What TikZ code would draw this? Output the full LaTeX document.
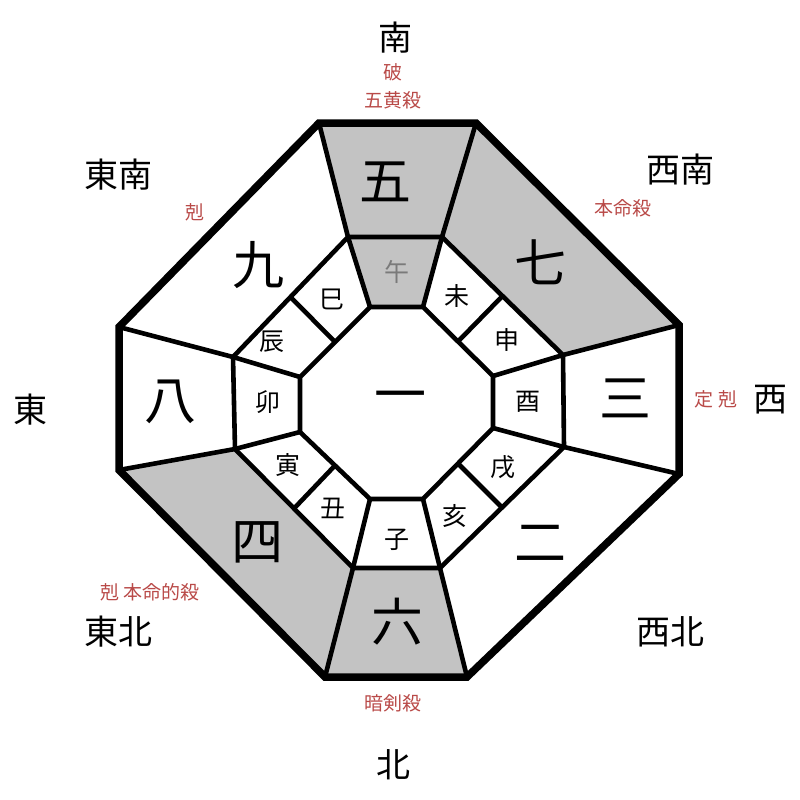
\documentclass[tikz,border=0pt]{standalone}
\usepackage{fontspec}
\usepackage{tikz}
\usetikzlibrary{calc}
\newfontfamily\jp{Noto Sans CJK JP}
\definecolor{cellgray}{HTML}{C3C3C3}
\definecolor{notered}{HTML}{B94A48}
\definecolor{faint}{HTML}{7A7A7A}

\begin{document}
\begin{tikzpicture}[
x=1pt,y=-1pt,
cell/.style={line width=4.6pt,line join=round},
rim/.style={line width=7.5pt,line join=miter},
num/.style={font=\jp\fontsize{52}{52}\selectfont},
zod/.style={font=\jp\fontsize{25}{25}\selectfont},
dir/.style={font=\jp\fontsize{34}{34}\selectfont},
note/.style={font=\jp\fontsize{19}{22}\selectfont,text=notered,align=center}
]
\useasboundingbox (0,0) rectangle (800,800);
% outer, middle and inner octagons
\coordinate (o1) at (319,123); \coordinate (o2) at (476,123);
\coordinate (o3) at (679,325); \coordinate (o4) at (679,474);
\coordinate (o5) at (467,677); \coordinate (o6) at (325,677);
\coordinate (o7) at (119,470); \coordinate (o8) at (119,327);
\coordinate (m1) at (348,237); \coordinate (m2) at (442,237);
\coordinate (m3) at (563,355); \coordinate (m4) at (564,447);
\coordinate (m5) at (440,568); \coordinate (m6) at (353,568);
\coordinate (m7) at (235,449); \coordinate (m8) at (233,357);
\coordinate (i1) at (370,307); \coordinate (i2) at (423,307);
\coordinate (i3) at (493,376); \coordinate (i4) at (493,428);
\coordinate (i5) at (423,499); \coordinate (i6) at (370,499);
\coordinate (i7) at (300,432); \coordinate (i8) at (300,377);
% shaded sectors
\fill[cellgray] (o1)--(o2)--(m2)--(m1)--cycle;
\fill[cellgray] (m1)--(m2)--(i2)--(i1)--cycle;
\fill[cellgray] (o2)--(o3)--(m3)--(m2)--cycle;
\fill[cellgray] (o5)--(o6)--(m6)--(m5)--cycle;
\fill[cellgray] (o6)--(o7)--(m7)--(m6)--cycle;
% spokes and rings
\foreach \k in {1,...,8} \draw[cell] (i\k)--(m\k)--(o\k);
\draw[cell] (m1)--(m2)--(m3)--(m4)--(m5)--(m6)--(m7)--(m8)--cycle;
\draw[cell] (i1)--(i2)--(i3)--(i4)--(i5)--(i6)--(i7)--(i8)--cycle;
\foreach \a/\b in {2/3,4/5,6/7,8/1}
  \draw[cell] ($(i\a)!0.5!(i\b)$)--($(m\a)!0.5!(m\b)$);
\draw[rim] (o1)--(o2)--(o3)--(o4)--(o5)--(o6)--(o7)--(o8)--cycle;
% numbers
\node[num] (n5) at (385,182) {五};
\node[num] (n7) at (540,262) {七};
\node[num] (n3) at (625,398) {三};
\node[num] (n2) at (540,543) {二};
\node[num] (n6) at (397,622) {六};
\node[num] (n4) at (257,542) {四};
\node[num] (n8) at (170,402) {八};
\node[num] (n9) at (258,265) {九};
\node[num] (n1) at (400,402) {一};
% zodiac
\node[zod,text=faint] (uma) at (397,272) {午};
\node[zod] (hitsuji) at (457,296) {未};
\node[zod] (saru) at (507,340) {申};
\node[zod] (tori) at (528,402) {酉};
\node[zod] (inu) at (503,467) {戌};
\node[zod] (inoshishi) at (455,516) {亥};
\node[zod] (ne) at (397,540) {子};
\node[zod] (ushi) at (333,508) {丑};
\node[zod] (tora) at (288,465) {寅};
\node[zod] (u) at (268,402) {卯};
\node[zod] (tatsu) at (272,342) {辰};
\node[zod] (mi) at (332,299) {巳};
% directions
\node[dir] (south) at (395,38) {南};
\node[dir] (southeast) at (118,175) {東南};
\node[dir] (southwest) at (680,170) {西南};
\node[dir] (east) at (30,410) {東};
\node[dir] (west) at (770,400) {西};
\node[dir] (northeast) at (118,632) {東北};
\node[dir] (northwest) at (670,632) {西北};
\node[dir] (north) at (393,765) {北};
% notes
\node[note] (ha) at (393,72) {破};
\node[note] (gooh) at (393,100) {五黄殺};
\node[note] (koku1) at (195,212) {剋};
\node[note] (honmei) at (623,208) {本命殺};
\node[note] (tei) at (716,399) {定 剋};
\node[note] (honmeiteki) at (150,592) {剋 本命的殺};
\node[note] (anken) at (393,703) {暗剣殺};
\end{tikzpicture}
\end{document}
